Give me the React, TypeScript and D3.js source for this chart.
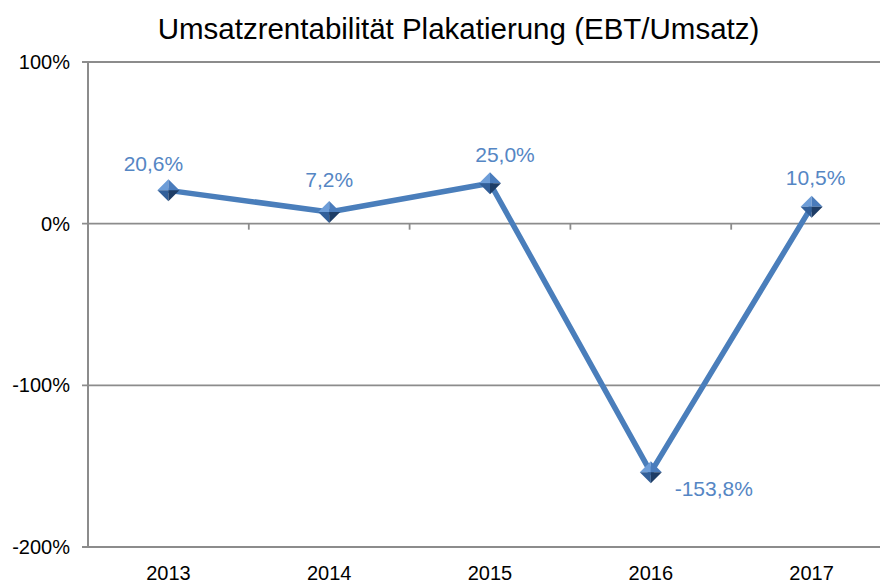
import React from "react";
import * as d3 from "d3";

const years = ["2013", "2014", "2015", "2016", "2017"];
const values = [20.6, 7.2, 25.0, -153.8, 10.5];
const yTicks = [100, 0, -100, -200];
const title = "Umsatzrentabilität Plakatierung (EBT/Umsatz)";

// label layout offsets (relative to marker), not data
const labelDx = [-15, 0, 15, 63, 4];
const labelDy = [-19, -25, -21, 24, -22];

const W = 880;
const H = 583;
const FONT = "'Liberation Sans', Arial, Helvetica, sans-serif";

const fmt = (v: number) => v.toFixed(1).replace(".", ",") + "%";

export default function App() {
  const x = d3.scaleBand<string>().domain(years).range([88, 892]).padding(0);
  const y = d3.scaleLinear().domain([-200, 100]).range([547, 62]);
  const cx = (d: string) => (x(d) as number) + x.bandwidth() / 2;
  const pts: [number, number][] = years.map((d, i) => [cx(d), y(values[i])]);
  const line = d3.line<[number, number]>().x((p) => p[0]).y((p) => p[1]);
  const r = 11;
  const boundaries = years.slice(1).map((d) => x(d) as number);

  return (
    <svg width={W} height={H} style={{ position: "absolute", left: 0, top: 0, background: "#fff" }}>
      <text x={458.5} y={39.3} textAnchor="middle" fontFamily={FONT} fontSize={29.5} fill="#000">
        {title}
      </text>
      {yTicks.map((t) => (
        <g key={t}>
          <line x1={82} x2={W} y1={y(t)} y2={y(t)} stroke="#8c8c8c" strokeWidth={1.8} />
          <text x={70} y={y(t) + 7} textAnchor="end" fontFamily={FONT} fontSize={20} fill="#000">
            {t + "%"}
          </text>
        </g>
      ))}
      <line x1={88} x2={88} y1={y(100)} y2={y(-200)} stroke="#8c8c8c" strokeWidth={2} />
      {boundaries.map((b, i) => (
        <line key={i} x1={b} x2={b} y1={y(0)} y2={y(0) + 6} stroke="#8c8c8c" strokeWidth={1.8} />
      ))}
      {years.map((d) => (
        <text key={d} x={cx(d)} y={580} textAnchor="middle" fontFamily={FONT} fontSize={20} fill="#000">
          {d}
        </text>
      ))}
      <path d={line(pts) || ""} fill="none" stroke="#4a7ebb" strokeWidth={5.5} strokeLinejoin="round" />
      {pts.map(([px, py], i) => (
        <g key={i}>
          <polygon points={`${px},${py - r} ${px - r},${py} ${px},${py}`} fill="#6d9dd8" />
          <polygon points={`${px},${py - r} ${px + r},${py} ${px},${py}`} fill="#4a7cbc" />
          <polygon points={`${px - r},${py} ${px},${py + r} ${px},${py}`} fill="#325f99" />
          <polygon points={`${px + r},${py} ${px},${py + r} ${px},${py}`} fill="#1e3d66" />
        </g>
      ))}
      {pts.map(([px, py], i) => (
        <text
          key={"l" + i}
          x={px + labelDx[i]}
          y={py + labelDy[i]}
          textAnchor="middle"
          fontFamily={FONT}
          fontSize={21}
          fill="#5586c4"
        >
          {fmt(values[i])}
        </text>
      ))}
    </svg>
  );
}
